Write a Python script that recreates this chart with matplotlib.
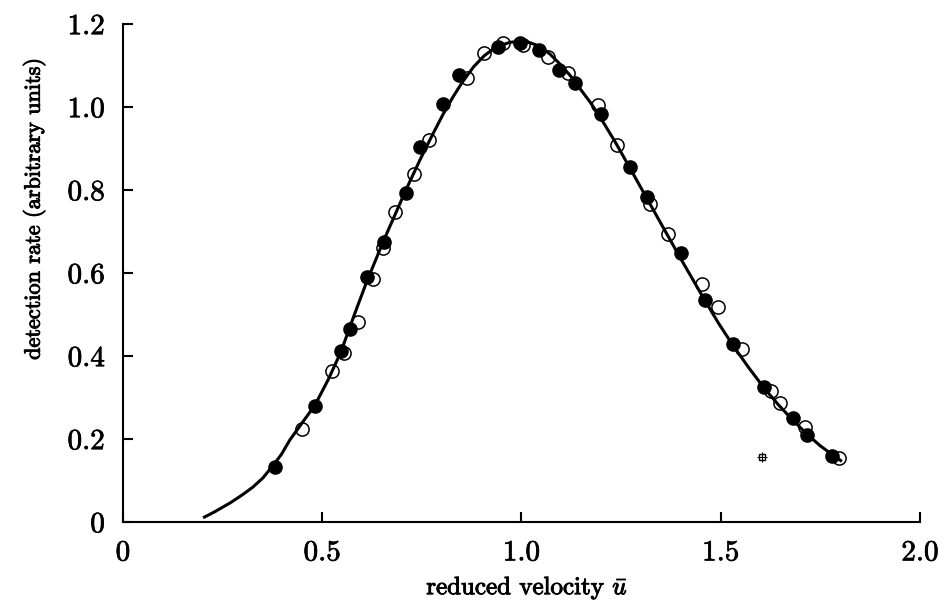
import matplotlib
matplotlib.use("Agg")
import matplotlib.pyplot as plt
import matplotlib.patheffects as pe

plt.rcParams['font.family'] = ['cmr10', 'DejaVu Serif']
plt.rcParams['mathtext.fontset'] = 'cm'
plt.rcParams['axes.formatter.use_mathtext'] = True

# fitted curve, read along its length
curve_u = [0.201, 0.231, 0.269, 0.299, 0.326, 0.351, 0.374, 0.397, 0.419, 0.449,
           0.482, 0.515, 0.547, 0.580, 0.612, 0.655, 0.710, 0.745, 0.775, 0.803,
           0.828, 0.851, 0.880, 0.906, 0.928, 0.946, 0.972, 0.996, 1.021, 1.046,
           1.072, 1.097, 1.122, 1.147, 1.172, 1.197, 1.235, 1.272, 1.322, 1.360,
           1.398, 1.430, 1.460, 1.495, 1.531, 1.570, 1.611, 1.645, 1.681, 1.715,
           1.749, 1.780, 1.804]
curve_rate = [0.010, 0.025, 0.046, 0.065, 0.084, 0.106, 0.133, 0.162, 0.198, 0.238,
              0.282, 0.343, 0.410, 0.498, 0.580, 0.680, 0.800, 0.872, 0.930, 0.982,
              1.024, 1.059, 1.097, 1.123, 1.139, 1.148, 1.156, 1.158, 1.155, 1.146,
              1.127, 1.103, 1.076, 1.044, 1.012, 0.976, 0.916, 0.853, 0.767, 0.702,
              0.637, 0.584, 0.534, 0.478, 0.425, 0.372, 0.320, 0.282, 0.245, 0.213,
              0.184, 0.162, 0.146]

# filled symbols
filled_u = [0.381, 0.482, 0.547, 0.570, 0.612, 0.655, 0.710, 0.745, 0.803, 0.843,
            0.941, 0.996, 1.044, 1.094, 1.134, 1.199, 1.272, 1.315, 1.401, 1.460,
            1.531, 1.609, 1.681, 1.716, 1.779]
filled_rate = [0.133, 0.280, 0.412, 0.465, 0.590, 0.675, 0.793, 0.903, 1.007, 1.077,
               1.145, 1.154, 1.137, 1.089, 1.058, 0.983, 0.855, 0.783, 0.648, 0.535,
               0.429, 0.325, 0.251, 0.210, 0.159]

# open symbols
open_u = [0.449, 0.524, 0.555, 0.590, 0.627, 0.652, 0.683, 0.730, 0.768, 0.863,
          0.906, 0.954, 1.004, 1.067, 1.117, 1.192, 1.240, 1.322, 1.368, 1.453,
          1.493, 1.553, 1.626, 1.649, 1.711, 1.797]
open_rate = [0.224, 0.364, 0.407, 0.482, 0.586, 0.660, 0.747, 0.839, 0.920, 1.070,
             1.130, 1.154, 1.149, 1.120, 1.082, 1.005, 0.908, 0.766, 0.694, 0.573,
             0.518, 0.417, 0.316, 0.287, 0.229, 0.154]

# stray symbol below the curve
stray_u = [1.603]
stray_rate = [0.157]

xticks = [0, 0.5, 1.0, 1.5, 2.0]
xtick_labels = ['0', '0.5', '1.0', '1.5', '2.0']
yticks = [0, 0.2, 0.4, 0.6, 0.8, 1.0, 1.2]
ytick_labels = ['0', '0.2', '0.4', '0.6', '0.8', '1.0', '1.2']

fig = plt.figure(figsize=(9.48, 6.04), dpi=100)
ax = fig.add_axes([0.1297, 0.1358, 0.8408, 0.8245])

ax.plot(curve_u, curve_rate, color='black', lw=2.2, solid_capstyle='butt',
        solid_joinstyle='round', zorder=2)
ax.plot(open_u, open_rate, 'o', ms=9.5, mfc='none', mec='black', mew=1.1, zorder=3)
ax.plot(filled_u, filled_rate, 'o', ms=9.5, mfc='black', mec='black', zorder=4)
ax.plot(stray_u, stray_rate, 's', ms=4, mfc='none', mec='black', mew=1.0, zorder=4)
ax.plot(stray_u, stray_rate, '+', ms=7, mec='black', mew=0.8, zorder=4)

ax.set_xlim(0, 2.0)
ax.set_ylim(0, 1.2)
ax.set_xticks(xticks)
ax.set_xticklabels(xtick_labels)
ax.set_yticks(yticks)
ax.set_yticklabels(ytick_labels)

for side in ['top', 'right']:
    ax.spines[side].set_visible(False)
for side in ['left', 'bottom']:
    ax.spines[side].set_linewidth(1.5)

ax.tick_params(direction='in', length=7, width=1.5, labelsize=21, pad=13)

ax.set_xlabel(r'reduced velocity $\bar{u}$', fontsize=18)
ax.set_ylabel('detection rate (arbitrary units)', fontsize=16)
ax.xaxis.set_label_coords(0.507, -0.105)
ax.yaxis.set_label_coords(-0.097, 0.628)

# slightly heavier strokes on all text
thick = [pe.withStroke(linewidth=0.5, foreground='black')]
for t in ax.get_xticklabels() + ax.get_yticklabels():
    t.set_path_effects(thick)
label_thick = [pe.withStroke(linewidth=0.7, foreground='black')]
ax.xaxis.label.set_path_effects(label_thick)
ax.yaxis.label.set_path_effects(label_thick)

fig.savefig('out.png', dpi=100)
